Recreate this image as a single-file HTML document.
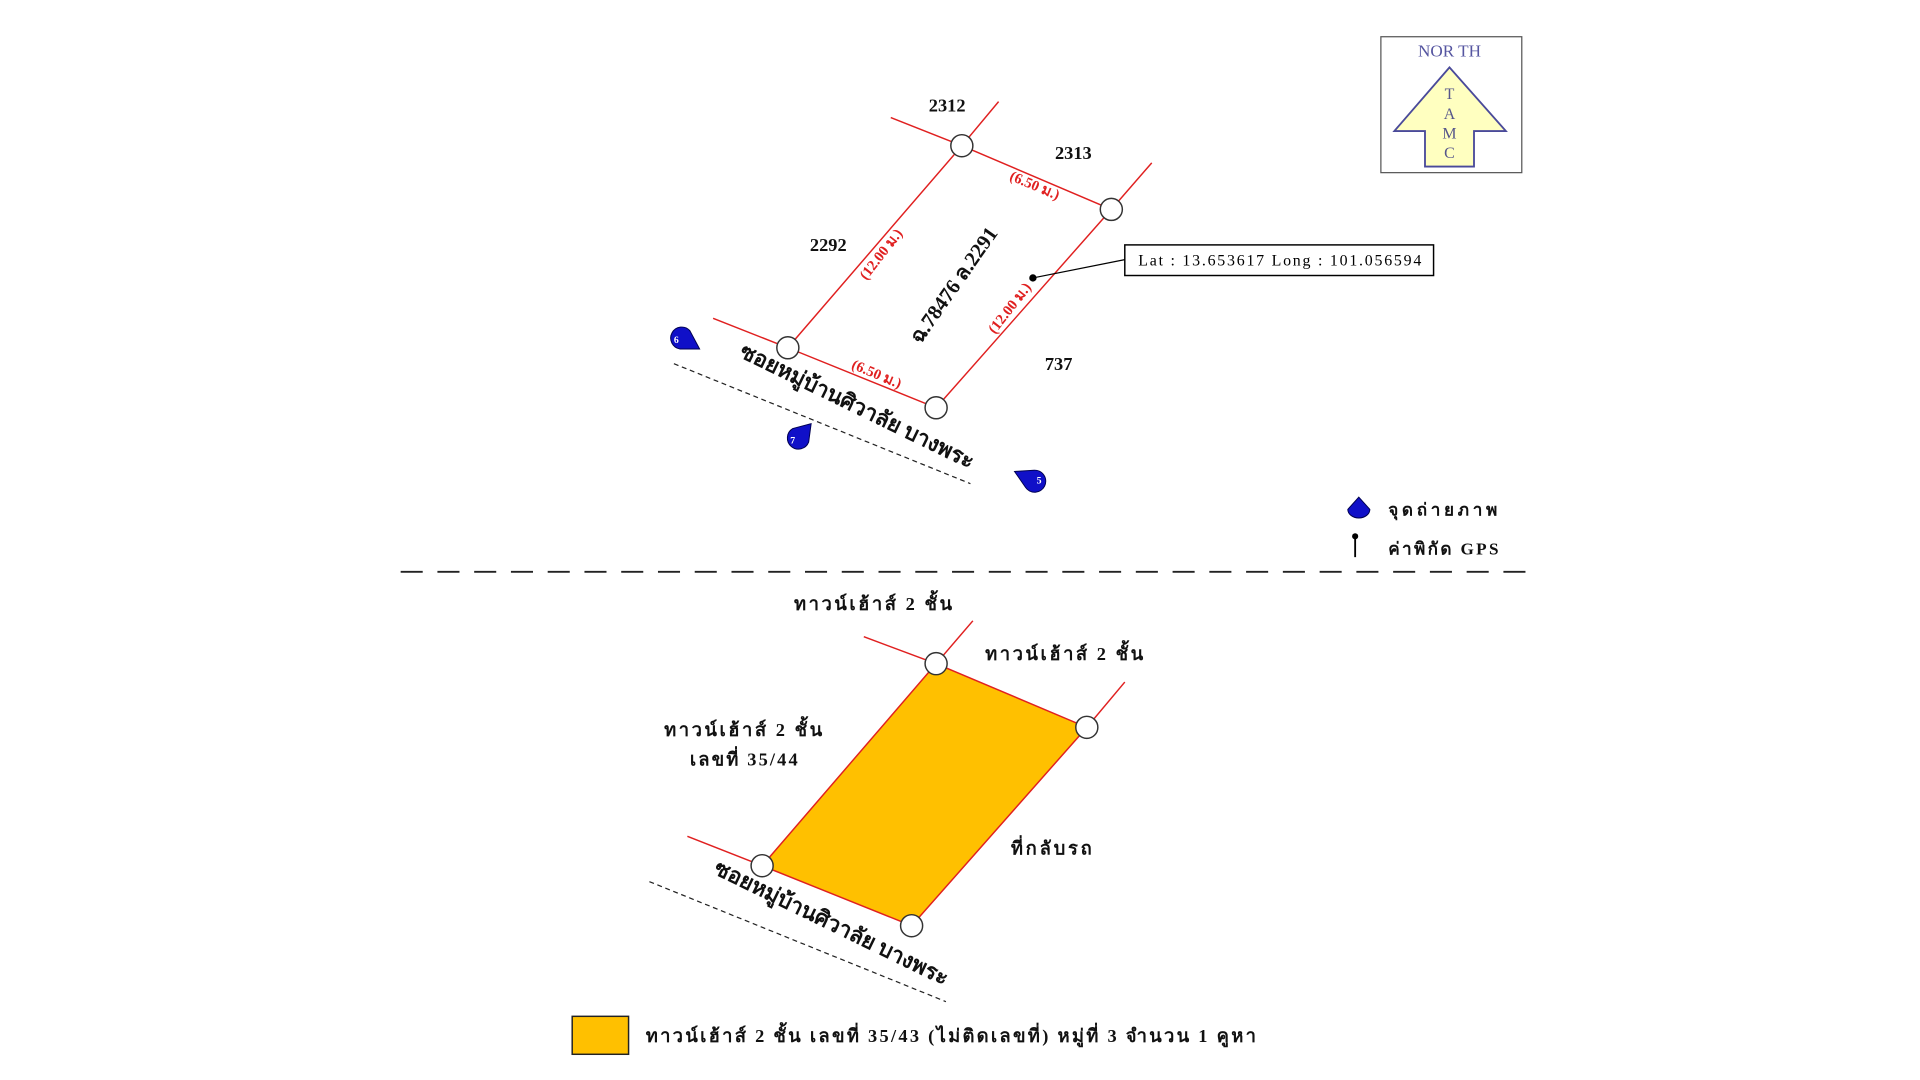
<!DOCTYPE html>
<html><head><meta charset="utf-8"><style>
html,body{margin:0;padding:0;background:#fff;width:1920px;height:1080px;overflow:hidden}
svg{display:block}
text{font-family:"Liberation Serif","Noto Serif CJK SC",serif;font-weight:bold}
.th{font-family:"Liberation Serif","Noto Sans CJK SC",sans-serif;font-weight:bold}
</style></head><body>
<svg width="1920" height="1080" viewBox="0 0 1567 882" preserveAspectRatio="none" xmlns="http://www.w3.org/2000/svg">
<rect width="1567" height="882" fill="#fff"/>
<g stroke="#e02020" stroke-width="1.2" fill="none">
<polygon points="785,119 907,171 764,333 643,284"/>
<line x1="785" y1="119" x2="815" y2="83"/>
<line x1="785" y1="119" x2="727" y2="96"/>
<line x1="907" y1="171" x2="940" y2="133"/>
<line x1="643" y1="284" x2="582" y2="260"/>
</g>
<g fill="#fff" stroke="#333" stroke-width="1.2">
<circle cx="785" cy="119" r="9"/><circle cx="907" cy="171" r="9"/><circle cx="764" cy="333" r="9"/><circle cx="643" cy="284" r="9"/>
</g>
<g font-size="15" fill="#111" text-anchor="middle">
<text x="773" y="91">2312</text><text x="876" y="130">2313</text><text x="676" y="205">2292</text><text x="864" y="302">737</text>
</g>
<g font-size="12" fill="#e02020" text-anchor="middle">
<text transform="translate(843,155) rotate(23)">(6.50 ม.)</text>
<text transform="translate(714,309) rotate(23)">(6.50 ม.)</text>
<text transform="translate(722,210) rotate(-52)">(12.00 ม.)</text>
<text transform="translate(827,254) rotate(-52)">(12.00 ม.)</text>
</g>
<text transform="translate(783,236) rotate(-55)" font-size="17" text-anchor="middle" fill="#111" class="th">ฉ.78476 ล.2291</text>
<circle cx="843" cy="227" r="3" fill="#000"/>
<line x1="843" y1="227" x2="918" y2="212" stroke="#000" stroke-width="1"/>
<rect x="918" y="200" width="252" height="25" fill="#fff" stroke="#000" stroke-width="1.2"/>
<text x="929" y="217" font-size="13" textLength="231" lengthAdjust="spacing" style="font-weight:normal" fill="#000">Lat : 13.653617 Long : 101.056594</text>
<text transform="translate(697,337) rotate(26)" font-size="18" text-anchor="middle" fill="#111" class="th">ซอยหมู่บ้านศิวาลัย บางพระ</text>
<line x1="550" y1="297" x2="792" y2="395" stroke="#222" stroke-width="1" stroke-dasharray="4,3"/>
<g fill="#1010c8" stroke="#000050" stroke-width="0.8">
<path d="M571,285 L555,285 A9,9 0 1 1 563,270 Z"/>
<path d="M662,346 L660,361 A9,9 0 1 1 647,350 Z"/>
<path d="M828,385 L844,384 A9,9 0 1 1 837,398 Z"/>
</g>
<g fill="#fff" font-size="8" text-anchor="middle" font-family="Liberation Sans">
<text x="552" y="280">6</text><text x="647" y="362">7</text><text x="848" y="395">5</text>
</g>
<rect x="1127" y="30" width="115" height="111" fill="#fff" stroke="#555" stroke-width="1"/>
<text x="1183" y="46" font-size="14" style="font-weight:normal" fill="#5555a0" text-anchor="middle">NOR TH</text>
<polygon points="1183,55 1138,107 1163,107 1163,136 1203,136 1203,107 1229,107" fill="#ffffc0" stroke="#4a4a9a" stroke-width="1.5"/>
<g font-size="13" fill="#55558a" text-anchor="middle">
<text x="1183" y="81" style="font-weight:normal">T</text><text x="1183" y="97" style="font-weight:normal">A</text><text x="1183" y="113" style="font-weight:normal">M</text><text x="1183" y="129" style="font-weight:normal">C</text>
</g>
<path d="M1109,406 L1118,416 A9,7 0 1 1 1100,416 Z" fill="#1010c8" stroke="#000050" stroke-width="0.8"/>
<text x="1133" y="421" font-size="14" fill="#111" class="th" textLength="89" lengthAdjust="spacing">จุดถ่ายภาพ</text>
<circle cx="1106" cy="438" r="2.5" fill="#000"/><line x1="1106" y1="438" x2="1106" y2="455" stroke="#000" stroke-width="1.5"/>
<text x="1133" y="453" font-size="14" fill="#111" class="th" textLength="90" lengthAdjust="spacing">ค่าพิกัด GPS</text>
<line x1="327" y1="467" x2="1245" y2="467" stroke="#222" stroke-width="1.5" stroke-dasharray="18,12"/>
<polygon points="764,542 887,594 744,756 622,707" fill="#ffc000" stroke="#e02020" stroke-width="1.2"/>
<g stroke="#e02020" stroke-width="1.2">
<line x1="764" y1="542" x2="794" y2="507"/><line x1="764" y1="542" x2="705" y2="520"/>
<line x1="887" y1="594" x2="918" y2="557"/><line x1="622" y1="707" x2="561" y2="683"/>
</g>
<g fill="#fff" stroke="#333" stroke-width="1.2">
<circle cx="764" cy="542" r="9"/><circle cx="887" cy="594" r="9"/><circle cx="744" cy="756" r="9"/><circle cx="622" cy="707" r="9"/>
</g>
<g font-size="15" fill="#111" class="th">
<text x="648" y="498" class="th" textLength="129" lengthAdjust="spacing">ทาวน์เฮ้าส์ 2 ชั้น</text>
<text x="804" y="539" class="th" textLength="129" lengthAdjust="spacing">ทาวน์เฮ้าส์ 2 ชั้น</text>
<text x="542" y="601" class="th" textLength="129" lengthAdjust="spacing">ทาวน์เฮ้าส์ 2 ชั้น</text>
<text x="563" y="625" class="th" textLength="88" lengthAdjust="spacing">เลขที่ 35/44</text>
<text x="825" y="698" class="th" textLength="66" lengthAdjust="spacing">ที่กลับรถ</text>
</g>
<text transform="translate(676,759) rotate(26)" font-size="18" text-anchor="middle" fill="#111" class="th">ซอยหมู่บ้านศิวาลัย บางพระ</text>
<line x1="530" y1="720" x2="772" y2="818" stroke="#222" stroke-width="1" stroke-dasharray="4,3"/>
<rect x="467" y="830" width="46" height="31" fill="#ffc000" stroke="#222" stroke-width="1.2"/>
<text x="527" y="851" font-size="15" fill="#111" class="th" textLength="498" lengthAdjust="spacing">ทาวน์เฮ้าส์ 2 ชั้น เลขที่ 35/43 (ไม่ติดเลขที่) หมู่ที่ 3 จำนวน 1 คูหา</text>
</svg>
</body></html>
